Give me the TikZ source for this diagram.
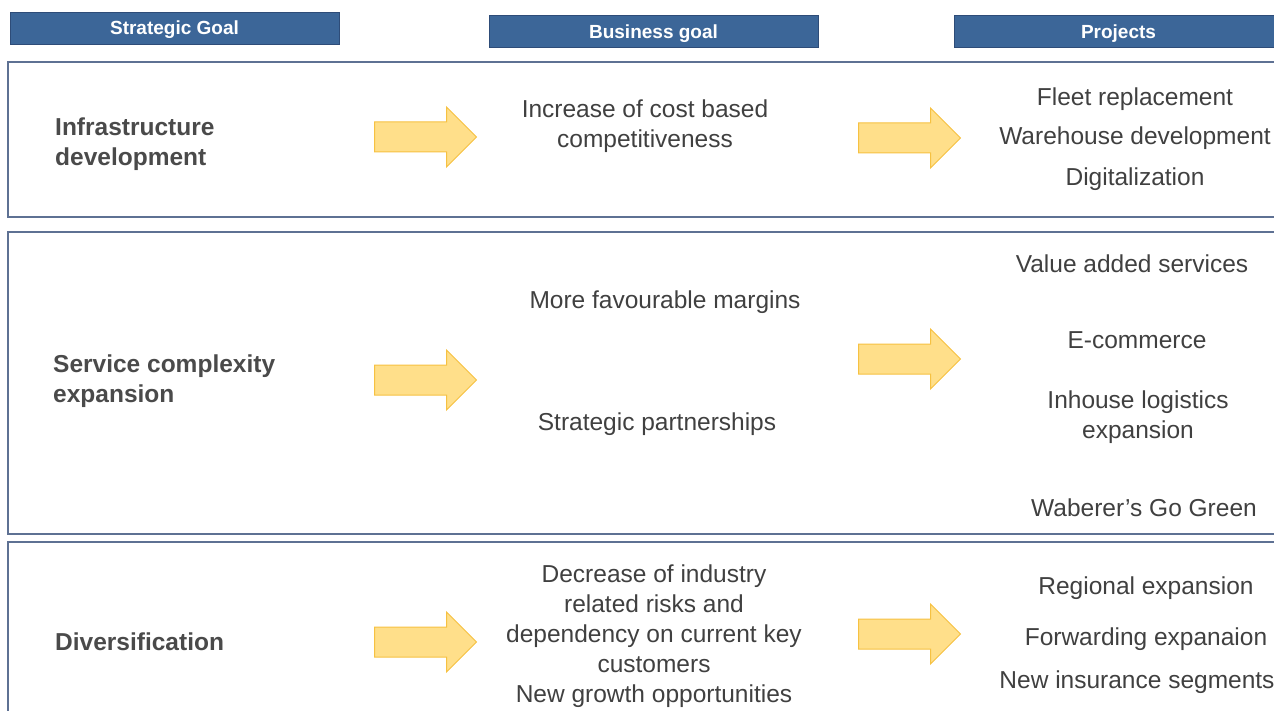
\documentclass[tikz,border=0pt]{standalone}
\usepackage{fontspec}
\setmainfont{Liberation Sans}
\usetikzlibrary{shapes.arrows}
\definecolor{hdrblue}{HTML}{3C6698}
\definecolor{hdrline}{HTML}{2E4C78}
\definecolor{rowline}{HTML}{5E7193}
\definecolor{goalgray}{HTML}{4A4A4A}
\definecolor{itemgray}{HTML}{404040}
\definecolor{arrowfill}{HTML}{FFDF8A}
\definecolor{arrowline}{HTML}{F6C142}

\begin{document}
\begin{tikzpicture}[x=1pt,y=-1pt,
    header/.style={draw=hdrline, fill=hdrblue, text=white, inner sep=0pt,
      minimum width=329pt, minimum height=32pt, text height=13.6pt, text depth=0pt,
      font=\fontsize{19}{23}\selectfont\bfseries},
    rowbox/.style={draw=rowline, line width=1.5pt},
    goal/.style={anchor=west, align=left, inner sep=0pt, text=goalgray, yshift=-3pt,
      font=\fontsize{24.5}{30}\selectfont\bfseries},
    item/.style={align=center, inner sep=0pt, text=itemgray, yshift=-3pt,
      font=\fontsize{24.5}{30}\selectfont},
    fatarrow/.style={single arrow, draw=arrowline, fill=arrowfill,
      line width=1pt, anchor=tail, minimum height=102pt,
      inner xsep=0pt, inner ysep=14.5pt, single arrow head extend=15pt}]
  \useasboundingbox (0,0) rectangle (1274,711);

  % column heads
  \node[header] (hstrat) at (174.5,28) {Strategic Goal};
  \node[header] (hbus) at (653.5,31.5) {Business goal};
  \node[header] (hproj) at (1118.5,31.5) {Projects};

  % rows
  \draw[rowbox] (8,62) rectangle (1290,217);
  \draw[rowbox] (8,232) rectangle (1290,534);
  \draw[rowbox] (8,542) rectangle (1290,730);

  % infrastructure
  \node[goal] (g1) at (55,141) {Infrastructure\\development};
  \node[fatarrow] (a11) at (374,137) {};
  \node[item] (b1) at (645,123) {Increase of cost based\\competitiveness};
  \node[fatarrow] (a12) at (858,138) {};
  \node[item] (p11) at (1135,96) {Fleet replacement};
  \node[item] (p12) at (1135,135) {Warehouse development};
  \node[item] (p13) at (1135,176) {Digitalization};

  % service complexity
  \node[goal] (g2) at (53,378) {Service complexity\\expansion};
  \node[fatarrow] (a21) at (374,380) {};
  \node[item] (b21) at (665,299) {More favourable margins};
  \node[item] (b22) at (657,421) {Strategic partnerships};
  \node[fatarrow] (a22) at (858,359) {};
  \node[item] (p21) at (1132,261) {Value added services};
  \node[item] (p22) at (1137,337) {E-commerce};
  \node[item] (p23) at (1138,414) {Inhouse logistics\\expansion};
  \node[item] (p24) at (1144,505) {Waberer’s Go Green};

  % diversification
  \node[goal] (g3) at (55,639) {Diversification};
  \node[fatarrow] (a31) at (374,642) {};
  \node[item] (b3) at (654,633.5) {Decrease of industry\\related risks and\\dependency on current key\\customers\\New growth opportunities};
  \node[fatarrow] (a32) at (858,634) {};
  \node[item] (p31) at (1146,585) {Regional expansion};
  \node[item] (p32) at (1146,636) {Forwarding expanaion};
  \node[item] (p33) at (1137,679) {New insurance segments};
\end{tikzpicture}
\end{document}
